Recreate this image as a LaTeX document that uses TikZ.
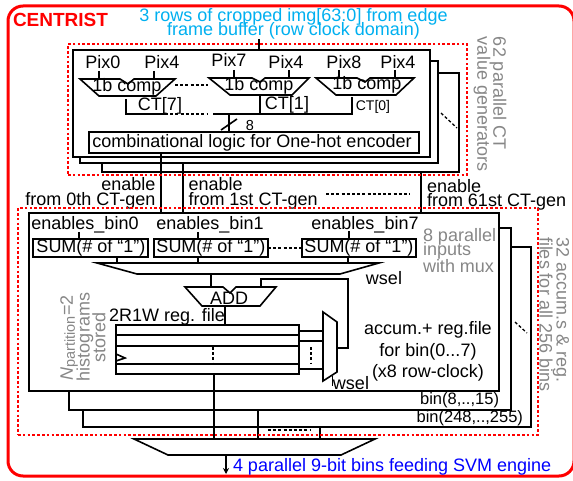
\documentclass[tikz,border=0pt]{standalone}
\usepackage{fontspec}
\setmainfont{Liberation Sans}
\usetikzlibrary{arrows.meta,calc}
\newcommand{\fs}[1]{\fontsize{#1}{#1}\selectfont}
\newcommand{\rbox}[6][]{\node[rect,#1,minimum width=#4pt-#2pt,minimum height=#5pt-#3pt] (#6) at ({(#2+#4)/2},{(#3+#5)/2}) {};}
\tikzset{
  x=1pt,y=-1pt,
  line/.style={draw=black,line width=1.6pt},
  rect/.style={draw=black,line width=1.6pt,fill=white,inner sep=0pt,outer sep=0pt},
  ftxt/.style={inner sep=0pt,outer sep=0pt,font=\fs{18}},
  reddash/.style={draw=red,line width=1.4pt,dash pattern=on 2.6pt off 2.2pt},
  blackdash/.style={draw=black,line width=1.3pt,dash pattern=on 3pt off 2.2pt},
  gtxt/.style={ftxt,text=graytxt},
  rotR/.style={gtxt,rotate=-90,anchor=west,align=left},
  trap/.style={draw=black,line width=1.6pt,fill=white,line join=miter},
}
\definecolor{graytxt}{RGB}{135,135,135}
\definecolor{skytxt}{RGB}{0,176,240}
\begin{document}
\begin{tikzpicture}
\useasboundingbox (0,0) rectangle (573,481);
\fill[white] (0,0) rectangle (573,481);
% outer frame
\node[draw=red,line width=3pt,rounded corners=15pt,minimum width=566pt,minimum height=470pt,inner sep=0,outer sep=0] (frame) at (291,241) {};
\node[ftxt,font=\fs{19}\bfseries,text=red,anchor=west] (title) at (13,20) {CENTRIST};
\node[ftxt,text=skytxt,anchor=center] (top1) at (293.5,17) {3 rows of cropped img[63:0] from edge};
\node[ftxt,text=skytxt,anchor=center] (top2) at (293.5,31) {frame buffer (row clock domain)};

% CT generator stack
\rbox{102}{73}{459}{172}{ctC}
\rbox{80}{61}{438}{163}{ctB}
\rbox{73}{50}{430}{157}{ctA}
\coordinate (inp) at (259,39);
\draw[line] (inp) -- (inp |- ctA.north);

\node[ftxt] (p0) at (103,62) {Pix0};
\node[ftxt] (p1) at (162,62) {Pix4};
\node[ftxt] (p2) at (229,60) {Pix7};
\node[ftxt] (p3) at (286,62) {Pix4};
\node[ftxt] (p4) at (344,62) {Pix8};
\node[ftxt] (p5) at (398,62) {Pix4};

\draw[line] (99,71) -- (99,79) (154,71) -- (154,79);
\draw[line] (234,70) -- (234,78) (289,70) -- (289,78);
\draw[line] (339,70) -- (339,78) (395,70) -- (395,78);

\draw[trap] (80,79) -- (120,79) -- (128,84) -- (134,79) -- (175,79) -- (156,96) -- (99,96) -- cycle;
\draw[trap] (209,78) -- (252,78) -- (260,82) -- (265,78) -- (309,78) -- (292,95) -- (230,95) -- cycle;
\draw[trap] (316,78) -- (357,78) -- (365,82) -- (370,78) -- (414,78) -- (396,95) -- (336,95) -- cycle;
\node[ftxt] (c0) at (127,87) {1b comp};
\node[ftxt] (c1) at (259,86) {1b comp};
\node[ftxt] (c2) at (367,85) {1b comp};
\draw[blackdash] (175,85) -- (208,85);

\draw[line] (126,99) -- (126,114) -- (165,114);
\draw[blackdash] (165,114) -- (208,114);
\draw[line] (213,114) -- (352,114) -- (352,97);
\draw[line] (260,96) -- (260,114);
\node[ftxt] (ct7) at (160,106) {CT[7]};
\node[ftxt] (ct1) at (287,105) {CT[1]};
\node[ftxt,font=\fs{14}] (ct0) at (373,106.5) {CT[0]};

\rbox{89}{132}{419}{153}{comb}
\node[ftxt] (combt) at (252,142.5) {combinational logic for One-hot encoder};
\coordinate (bus8) at (229,114);
\draw[line] (bus8) -- (bus8 |- comb.north);
\draw[line] (221,130) -- (237,119);
\node[ftxt,font=\fs{14.5}] (eight) at (250,126) {8};
\draw[blackdash] (441,113) -- (457,128);

\node[rotR] (g1) at (498,37) {62 parallel CT};
\node[rotR] (g2) at (482,37) {value generators};

% enable lines
\rbox{83}{247}{531}{427}{binC}
\rbox{69}{228}{511}{410}{binB}
\rbox{29}{213}{499}{391}{binA}
\coordinate (e0) at (161,0);
\coordinate (e1) at (183,0);
\coordinate (e2) at (421,0);
\draw[line] (e0 |- comb.south) -- (e0 |- binA.north);
\draw[line] (e1 |- ctB.south) -- (e1 |- binA.north);
\draw[line] (e2 |- ctC.south) -- (e2 |- binA.north);

\node[ftxt,anchor=east] (en0a) at (155.5,184) {enable};
\node[ftxt,anchor=east] (en0b) at (155.5,200.5) {from 0th CT-gen};
\node[ftxt,anchor=west] (en1a) at (188.5,184) {enable};
\node[ftxt,anchor=west] (en1b) at (188.5,200.5) {from 1st CT-gen};
\node[ftxt,anchor=west] (en2a) at (427,186) {enable};
\node[ftxt,anchor=west] (en2b) at (427,202) {from 61st CT-gen};
\draw[blackdash] (326,194) -- (410,194);

% sum row
\node[ftxt] (eb0) at (85,225) {enables\_bin0};
\node[ftxt] (eb1) at (210,225) {enables\_bin1};
\node[ftxt] (eb7) at (365,225) {enables\_bin7};
\rbox{33}{239}{148}{257}{sum0}
\rbox{154}{239}{268}{257}{sum1}
\rbox{302}{239}{416}{257}{sum7}
\node[ftxt] (s0t) at (91,248) {SUM(\# of “1”)};
\node[ftxt] (s1t) at (211,248) {SUM(\# of “1”)};
\node[ftxt] (s7t) at (359,248) {SUM(\# of “1”)};
\draw[line] (79,232) -- (79 ,239);
\draw[line] (198,232) -- (198,239);
\draw[line] (349,231) -- (349,239);
\draw[line] (117,257) -- (117,263);
\draw[line] (198,257) -- (198,263);
\draw[line] (348,257) -- (348,263);
\draw[blackdash] (sum1.east) -- (sum7.west);

\draw[trap] (97,263) -- (379,263) -- (340,274) -- (137,274) -- cycle;
\node[ftxt] (ws1) at (384,278) {wsel};
\node[ftxt,anchor=west] (g3) at (423,237) {\textcolor{graytxt}{8 parallel}};
\node[ftxt,anchor=west] (g4) at (423,251) {\textcolor{graytxt}{inputs}};
\node[ftxt,anchor=west] (g5) at (423,266) {\textcolor{graytxt}{with mux}};

% adder
\draw[line] (211,274) -- (211,287);
\draw[line] (261,287) -- (261,279) -- (348,279) -- (348,348) -- (337,348);
\draw[trap] (185,287) -- (223,287) -- (230,293) -- (236,287) -- (276,287) -- (260,306) -- (202,306) -- cycle;
\node[ftxt] (addt) at (229,298) {ADD};
\draw[line] (225,306) -- (225,325);
\node[ftxt] (rf) at (167,317) {2R1W reg. file};

% register file
\rbox{116}{325}{299}{374}{reg}
\draw[line] (116,335) -- (299,335);
\draw[line] (116,346) -- (299,346);
\draw[line] (116,364) -- (299,364);
\draw[line] (116,354) -- (125,358) -- (116,361);
\draw[blackdash] (213,347) -- (213,363);
\draw[line] (299,331) -- (323,331);
\draw[line] (299,341) -- (323,341);
\draw[line] (299,369) -- (323,369);
\draw[blackdash] (311,347) -- (311,363);
\draw[trap] (323,312) -- (337,322) -- (337,372) -- (323,381) -- cycle;
\draw[line,line width=1pt] (332,376) -- (332,386);
\node[ftxt] (ws2) at (351,383) {wsel};

\node[ftxt] (ac1) at (428,330) {accum.+ reg.file};
\node[ftxt] (ac2) at (428,352) {for bin(0...7)};
\node[ftxt] (ac3) at (428,373) {(x8 row-clock)};
\node[ftxt,font=\fs{16.5},anchor=east] (b1) at (499,400.5) {bin(8,..,15)};
\node[ftxt,font=\fs{16.5},anchor=east] (b2) at (523,418) {bin(248,..,255)};

\node[gtxt,rotate=90] (h1) at (69,338) {\textit{N}\raisebox{-2pt}{\fs{14.5}partition}=2};
\node[gtxt,rotate=90] (h2) at (85,337) {histograms};
\node[gtxt,rotate=90] (h3) at (99,337.5) {stored};

\draw[blackdash] (515,322) -- (527,333);
\node[rotR] (g6) at (561,237) {32 accum.s \& reg.};
\node[rotR] (g7) at (546,237) {files for all 256 bins};

% output mux
\coordinate (o0) at (214,0);
\coordinate (o1) at (258,0);
\coordinate (o2) at (320,0);
\draw[line] (o0 |- reg.south) -- (o0 |- 0,439);
\draw[line] (o1 |- binB.south) -- (o1 |- 0,439);
\draw[line] (o2 |- binC.south) -- (o2 |- 0,439);
\draw[blackdash] (268,430) -- (310,430);
\draw[trap] (134,439) -- (375,439) -- (341,455) -- (168,455) -- cycle;
\coordinate (arrowend) at (226,474);
\draw[line,-{Stealth[length=6pt,width=6pt]}] (226,455) -- (arrowend);
\node[ftxt,text=blue,anchor=west] (out) at (233,467) {4 parallel 9-bit bins feeding SVM engine};

% red dashed regions
\node[reddash,minimum width=399pt,minimum height=131pt,inner sep=0,outer sep=0] (region1) at (267.5,109.5) {};
\node[reddash,minimum width=520pt,minimum height=227pt,inner sep=0,outer sep=0] (region2) at (278,321.5) {};
\end{tikzpicture}
\end{document}
